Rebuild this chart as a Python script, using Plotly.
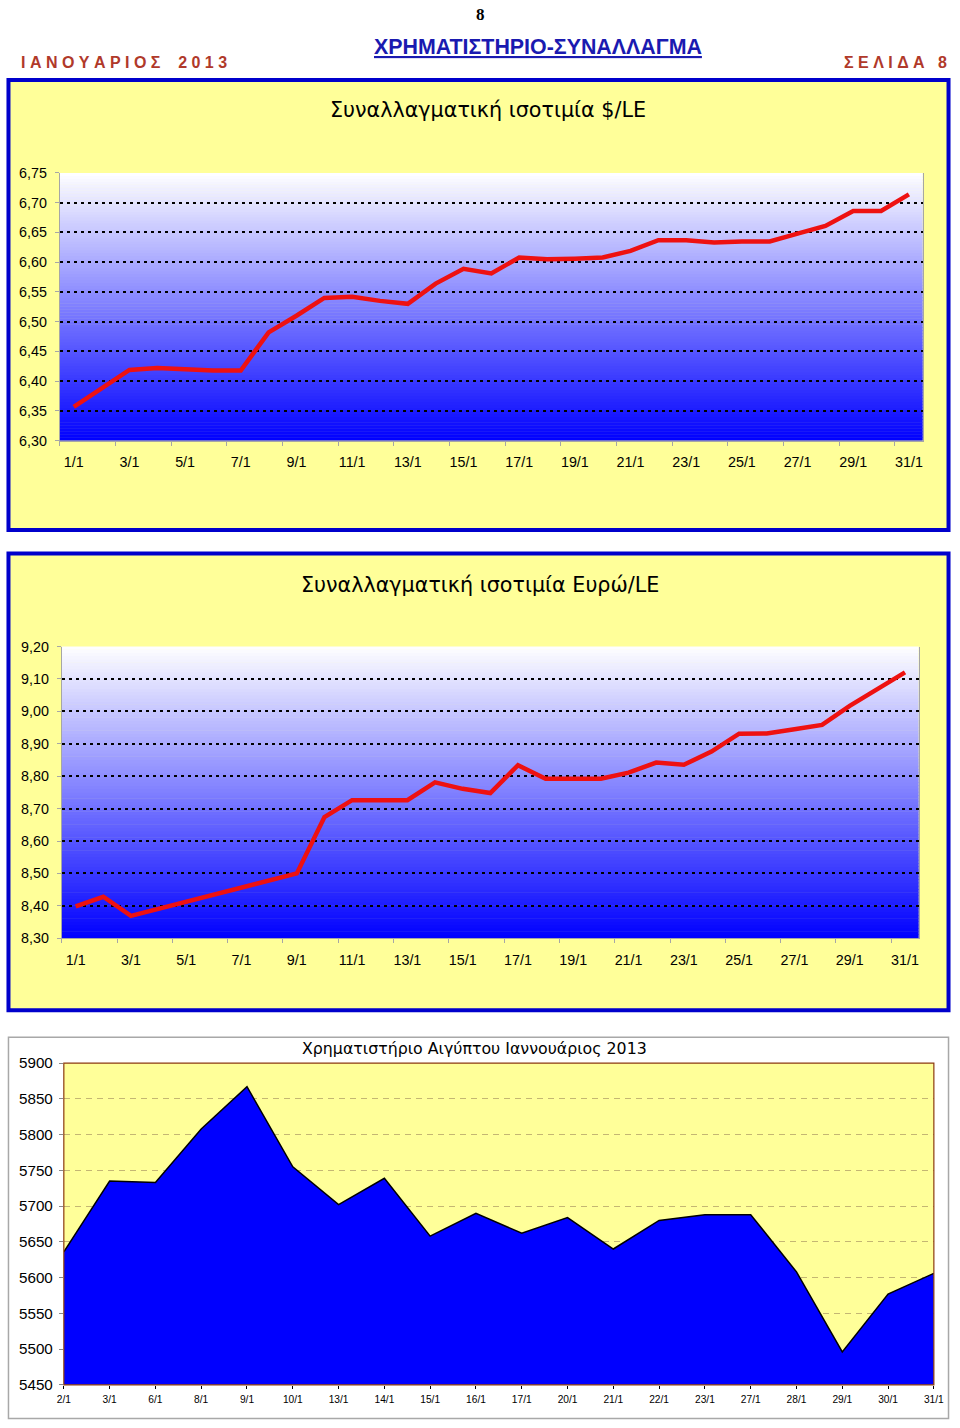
import plotly.graph_objects as go

# ---------------- data ----------------
days_fx = [f"{d}/1" for d in range(1, 32)]
usd_le = [6.357, 6.388, 6.419, 6.422, 6.420, 6.418, 6.418, 6.482, 6.510, 6.540,
          6.542, 6.535, 6.530, 6.564, 6.589, 6.581, 6.608, 6.605, 6.606, 6.608,
          6.619, 6.637, 6.637, 6.633, 6.635, 6.635, 6.648, 6.661, 6.686, 6.686,
          6.714]
eur_le = [8.398, 8.428, 8.369, 8.391, 8.413, 8.435, 8.456, 8.478, 8.500, 8.674,
          8.726, 8.726, 8.726, 8.781, 8.761, 8.748, 8.834, 8.792, 8.792, 8.792,
          8.811, 8.842, 8.835, 8.876, 8.931, 8.932, 8.945, 8.958, 9.017, 9.069,
          9.120]
usd_ticks = [6.30, 6.35, 6.40, 6.45, 6.50, 6.55, 6.60, 6.65, 6.70, 6.75]
usd_ticktext = ["6,30", "6,35", "6,40", "6,45", "6,50", "6,55", "6,60", "6,65", "6,70", "6,75"]
eur_ticks = [8.30, 8.40, 8.50, 8.60, 8.70, 8.80, 8.90, 9.00, 9.10, 9.20]
eur_ticktext = ["8,30", "8,40", "8,50", "8,60", "8,70", "8,80", "8,90", "9,00", "9,10", "9,20"]

egx_days = ["2/1", "3/1", "6/1", "8/1", "9/1", "10/1", "13/1", "14/1", "15/1", "16/1",
            "17/1", "20/1", "21/1", "22/1", "23/1", "27/1", "28/1", "29/1", "30/1", "31/1"]
egx_values = [5636, 5735, 5733, 5808, 5867, 5755, 5702, 5739, 5658, 5690,
              5662, 5684, 5640, 5680, 5688, 5688, 5608, 5496, 5577, 5606]
egx_ticks = [5450, 5500, 5550, 5600, 5650, 5700, 5750, 5800, 5850, 5900]

title1 = "Συναλλαγματική ισοτιμία $/LE"
title2 = "Συναλλαγματική ισοτιμία Ευρώ/LE"
title3 = "Χρηματιστήριο Αιγύπτου Ιαννουάριος 2013"

# ---------------- layout helpers ----------------
W, H = 960, 1428
# the photographed page shows the figure slightly inset/scaled; map target pixel
# positions to figure pixels accordingly
SX, OX, SY, OY = 0.980, 7.3, 0.989, 8.9
def fxp(x): return min(max((x - OX) / SX, 1.5), W - 1.5)
def fyp(y): return min(max((y - OY) / SY, 1.5), H - 1.5)
def px_x(x): return fxp(x) / W
def px_y(y): return 1 - fyp(y) / H

YELLOW = "#ffff99"
BOXBLUE = "#0000cc"
AXGREY = "#a6a6a6"
TXT = "#000000"
FONT = "Liberation Sans, Arial, sans-serif"
TFONT = "DejaVu Sans, sans-serif"

fig = go.Figure()

xs = list(range(len(days_fx)))
fig.add_trace(go.Scatter(x=xs, y=usd_le, mode="lines", line=dict(color="#ee1111", width=4.5),
                         xaxis="x", yaxis="y", hoverinfo="skip", showlegend=False))
fig.add_trace(go.Scatter(x=xs, y=eur_le, mode="lines", line=dict(color="#ee1111", width=4.5),
                         xaxis="x2", yaxis="y2", hoverinfo="skip", showlegend=False))
xs3 = list(range(len(egx_days)))
fig.add_trace(go.Scatter(x=xs3, y=egx_values, mode="lines", fill="tozeroy",
                         fillcolor="#0000ff", line=dict(color="#000000", width=1.5),
                         xaxis="x3", yaxis="y3", hoverinfo="skip", showlegend=False))

shapes = []
shapes.append(dict(type="rect", xref="paper", yref="paper", layer="below",
                   x0=px_x(3.5), x1=px_x(955), y0=px_y(530.5), y1=px_y(80),
                   fillcolor=YELLOW, line=dict(color=BOXBLUE, width=4)))
shapes.append(dict(type="rect", xref="paper", yref="paper", layer="below",
                   x0=px_x(3.5), x1=px_x(955), y0=px_y(1011), y1=px_y(554),
                   fillcolor=YELLOW, line=dict(color=BOXBLUE, width=4)))
shapes.append(dict(type="rect", xref="paper", yref="paper", layer="below",
                   x0=px_x(3), x1=px_x(955), y0=px_y(1425), y1=px_y(1038),
                   fillcolor="#ffffff", line=dict(color="#a8a8a8", width=1.5)))

def gradient(xref, yref, x0, x1, y0, y1, n=90):
    out = []
    for k in range(n):
        f0 = k / n
        f1 = (k + 1) / n
        t = (k + 0.5) / n
        r = int(round(255 * t)); g = int(round(255 * t))
        out.append(dict(type="rect", xref=xref, yref=yref, layer="below",
                        x0=x0, x1=x1, y0=y0 + (y1 - y0) * f0, y1=y0 + (y1 - y0) * f1 + (y1 - y0) * 0.002,
                        fillcolor=f"rgb({r},{g},255)", line=dict(width=0)))
    return out

shapes += gradient("x", "y", -0.5, len(days_fx) - 0.5, usd_ticks[0], usd_ticks[-1])
shapes += gradient("x2", "y2", -0.5, len(days_fx) - 0.5, eur_ticks[0], eur_ticks[-1])
shapes.append(dict(type="rect", xref="x3 domain", yref="y3 domain", layer="below",
                   x0=0, x1=1, y0=0, y1=1, fillcolor=YELLOW, line=dict(width=0)))
shapes.append(dict(type="rect", xref="x3 domain", yref="y3 domain", layer="above",
                   x0=0, x1=1, y0=0, y1=1, fillcolor="rgba(0,0,0,0)",
                   line=dict(color="#8b3a0e", width=1.2)))

def ann(text, x, y, size, color=TXT, family=FONT, xanchor="center"):
    return dict(text=text, x=px_x(x), y=px_y(y), xref="paper", yref="paper", showarrow=False,
                xanchor=xanchor, yanchor="middle", font=dict(family=family, size=size, color=color))

NB = "\u00a0"
left_hdr = NB.join("ΙΑΝΟΥΑΡΙΟΣ") + NB * 4 + NB.join("2013")
right_hdr = NB.join("ΣΕΛΙΔΑ") + NB * 3 + "8"

annotations = [
    ann("<b>8</b>", 480, 14, 17, "#000", "Liberation Serif, serif"),
    ann("<b><u>ΧΡΗΜΑΤΙΣΤΗΡΙΟ-ΣΥΝΑΛΛΑΓΜΑ</u></b>", 537, 47, 21.4, "#1a1ab0"),
    ann("<b>" + left_hdr + "</b>", 19, 62, 16, "#b0392a", xanchor="left"),
    ann("<b>" + right_hdr + "</b>", 956, 62, 16, "#b0392a", xanchor="right"),
    ann(title1, 487, 110, 20.7, family=TFONT),
    ann(title2, 479, 585, 20.7, family=TFONT),
    ann(title3, 474, 1049, 15.8, family=TFONT),
]

fx_tickvals = xs[::2]
fx_ticktext = days_fx[::2]

def fx_xaxis(domain, anchor):
    return dict(domain=domain, anchor=anchor, range=[-0.5, len(days_fx) - 0.5], tickmode="array",
                tickvals=fx_tickvals, ticktext=fx_ticktext, ticks="", showgrid=False,
                showline=True, linecolor=AXGREY, linewidth=1.2, zeroline=False,
                ticklabelstandoff=8, tickfont=dict(family=FONT, size=14.3, color=TXT),
                minor=dict(ticks="outside", tickmode="linear", tick0=-0.5, dtick=2,
                           ticklen=4, tickcolor=AXGREY, tickwidth=1, showgrid=False))

def fx_yaxis(domain, anchor, rng, tv, tt):
    return dict(domain=domain, anchor=anchor, range=rng, tickmode="array", tickvals=tv, ticktext=tt,
                ticks="outside", ticklen=4, tickcolor=AXGREY, showline=True, mirror=True,
                linecolor=AXGREY, linewidth=1.2, zeroline=False, showgrid=True,
                gridcolor="#000000", gridwidth=1.5, griddash="3px,4px",
                ticklabelstandoff=5, tickfont=dict(family=FONT, size=14.3, color=TXT))

fig.update_layout(
    width=W, height=H, margin=dict(l=0, r=0, t=0, b=0), autosize=False,
    paper_bgcolor="#ffffff", plot_bgcolor="rgba(0,0,0,0)", showlegend=False,
    xaxis=fx_xaxis([px_x(60), px_x(921)], "y"),
    yaxis=fx_yaxis([px_y(441), px_y(173)], "x", [usd_ticks[0], usd_ticks[-1]], usd_ticks, usd_ticktext),
    xaxis2=fx_xaxis([px_x(62), px_x(917)], "y2"),
    yaxis2=fx_yaxis([px_y(939), px_y(647)], "x2", [eur_ticks[0], eur_ticks[-1]], eur_ticks, eur_ticktext),
    xaxis3=dict(domain=[px_x(64), px_x(932)], range=[0, len(egx_days) - 1], anchor="y3",
                tickmode="array", tickvals=xs3, ticktext=egx_days, ticks="outside",
                ticklen=3, tickcolor="#000", showgrid=False, showline=False, zeroline=False,
                ticklabelstandoff=2, tickfont=dict(family=FONT, size=10.2, color=TXT)),
    yaxis3=dict(domain=[px_y(1386), px_y(1064)], range=[egx_ticks[0], egx_ticks[-1]], anchor="x3",
                tickmode="array", tickvals=egx_ticks, ticktext=[str(v) for v in egx_ticks],
                ticks="outside", ticklen=4, tickcolor="#888", showline=False, zeroline=False,
                showgrid=True, gridcolor="#c4b673", gridwidth=1, griddash="6px,5px",
                ticklabelstandoff=3, tickfont=dict(family=FONT, size=15.2, color=TXT)),
    shapes=shapes, annotations=annotations,
)

post = ("var gd=document.getElementById('{plot_id}');"
        "gd.style.position='fixed';gd.style.left='0px';gd.style.top='0px';"
        "document.body.style.margin='0';document.body.style.padding='0';"
        "document.documentElement.style.overflow='hidden';document.body.style.overflow='hidden';")
fig.write_html("out.html", config={"displayModeBar": False}, post_script=post)
